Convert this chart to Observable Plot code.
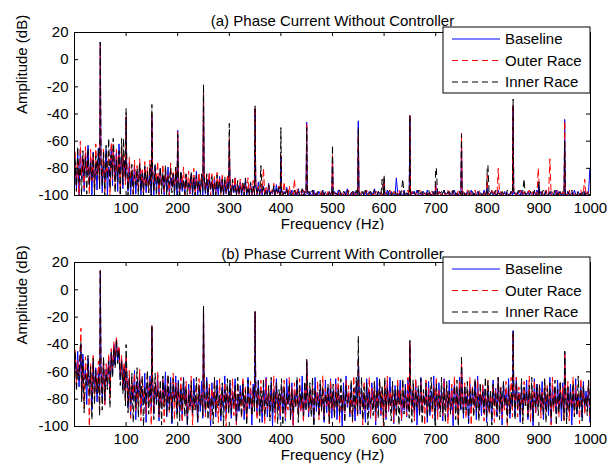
<!DOCTYPE html>
<html><head><meta charset="utf-8">
<script src="https://cdn.jsdelivr.net/npm/d3@7"></script>
<script src="https://cdn.jsdelivr.net/npm/@observablehq/plot@0.6"></script>
<style>
body{margin:0;background:#fff;}
#chart{position:relative;width:616px;height:467px;background:#fff;}
#chart svg{position:absolute;left:0;display:block;overflow:visible;}
</style></head><body><div id="chart"></div>
<script>
// ---------- tick labels / series meta ----------
const xTicks = [100,200,300,400,500,600,700,800,900,1000];
const yTicks = [-100,-80,-60,-40,-20,0,20];
const seriesNames = ["Baseline","Outer Race","Inner Race"];
const seriesColors = ["#0000ff","#ff0000","#000000"];
const seriesDash = [null,"6,4","6,4"];
const titleA = "(a) Phase Current Without Controller";
const titleB = "(b) Phase Current With Controller";
const xLabel = "Frequency (Hz)";
const yLabel = "Amplitude (dB)";

// noise-floor samples: one value every 2.5 Hz starting at 1.25 Hz (dB)
const aBase = [
-78,-95,-70,-100,-66,-88,-74,-97,-69,-85,-63,-92,-72,-100,-68,-90,-77,-96,-65,-87,
-70,-98,-75,-90,-66,-100,-79,-86,-64,-93,-72,-88,-67,-97,-62,-84,-70,-95,-74,-89,
-80,-97,-76,-100,-84,-92,-78,-99,-85,-90,-77,-100,-82,-95,-79,-98,-86,-93,-81,-100,
-82,-100,-78,-94,-86,-99,-80,-92,-88,-100,-83,-96,-79,-100,-87,-93,-84,-98,-81,-100,
-86,-100,-83,-97,-89,-100,-85,-95,-91,-99,-84,-100,-88,-96,-82,-100,-90,-98,-86,-100,
-85,-99,-88,-100,-84,-96,-90,-100,-87,-98,-92,-100,-86,-97,-89,-100,-91,-99,-88,-100,
-89,-100,-92,-98,-87,-100,-94,-99,-90,-100,-93,-97,-88,-100,-95,-99,-91,-100,-94,-98,
-92,-100,-90,-99,-95,-100,-93,-98,-96,-100,-91,-100,-97,-99,-94,-100,-92,-98,-96,-100,
-95,-100,-97,-99,-94,-100,-98,-100,-96,-99,-100,-97,-100,-95,-99,-100,-98,-96,-100,-99,
-98,-100,-97,-100,-99,-96,-100,-98,-100,-97,-99,-100,-96,-100,-98,-99,-100,-97,-100,-98,
-100,-97,-99,-100,-96,-100,-98,-99,-100,-97,-100,-95,-99,-100,-98,-100,-97,-99,-100,-96,
-97,-100,-99,-98,-100,-96,-100,-99,-97,-100,-98,-100,-95,-99,-100,-97,-100,-98,-99,-100,
-99,-100,-96,-100,-98,-97,-100,-99,-100,-87,-98,-100,-97,-99,-100,-96,-100,-98,-100,-97,
-100,-98,-99,-97,-100,-96,-99,-100,-98,-100,-97,-99,-100,-96,-100,-98,-99,-100,-97,-100,
-98,-100,-97,-99,-100,-98,-96,-100,-99,-97,-100,-98,-100,-99,-96,-100,-98,-100,-97,-99,
-100,-99,-98,-100,-97,-100,-99,-96,-100,-98,-99,-100,-97,-100,-98,-99,-100,-96,-100,-98,
-97,-100,-99,-98,-100,-97,-100,-99,-96,-100,-98,-100,-99,-97,-100,-98,-100,-99,-97,-100,
-99,-98,-100,-97,-99,-100,-96,-100,-98,-99,-100,-97,-100,-98,-99,-100,-97,-100,-96,-99,
-100,-97,-99,-100,-98,-96,-100,-99,-97,-100,-98,-100,-99,-96,-100,-97,-99,-100,-98,-100,
-98,-100,-97,-99,-100,-98,-100,-96,-99,-100,-97,-100,-98,-99,-100,-97,-100,-99,-98,-80];
const aOuter = [
-68,-92,-75,-100,-60,-86,-71,-95,-64,-83,-74,-99,-66,-89,-70,-97,-62,-85,-76,-94,
-72,-90,-65,-97,-77,-85,-68,-100,-61,-88,-73,-94,-66,-83,-70,-99,-64,-87,-75,-92,
-76,-95,-72,-88,-80,-100,-74,-91,-78,-97,-73,-89,-81,-100,-75,-93,-79,-98,-74,-90,
-78,-96,-82,-89,-75,-100,-84,-93,-77,-98,-80,-90,-85,-100,-76,-94,-83,-97,-79,-91,
-81,-98,-84,-92,-79,-100,-86,-95,-82,-99,-85,-93,-80,-100,-87,-96,-83,-98,-85,-94,
-82,-97,-85,-93,-83,-100,-84,-96,-86,-99,-83,-94,-87,-100,-84,-97,-88,-98,-85,-95,
-87,-100,-89,-96,-86,-99,-91,-100,-88,-97,-90,-100,-92,-98,-87,-100,-93,-99,-89,-100,
-90,-99,-93,-100,-91,-98,-80,-100,-94,-99,-92,-100,-95,-98,-91,-100,-96,-99,-93,-100,
-94,-100,-90,-99,-96,-100,-93,-98,-97,-100,-88,-99,-95,-100,-98,-97,-100,-96,-99,-100,
-98,-97,-100,-99,-96,-100,-98,-100,-97,-99,-100,-96,-100,-98,-99,-100,-97,-100,-98,-99,
-100,-98,-97,-100,-99,-96,-100,-97,-99,-100,-98,-100,-96,-99,-100,-97,-100,-98,-99,-100,
-99,-100,-97,-98,-100,-99,-96,-100,-98,-97,-100,-99,-100,-96,-98,-100,-99,-97,-100,-98,
-97,-99,-100,-98,-96,-100,-99,-97,-100,-98,-100,-96,-99,-100,-97,-98,-100,-99,-96,-100,
-100,-97,-99,-100,-98,-99,-100,-96,-97,-100,-99,-98,-100,-97,-99,-100,-96,-98,-100,-99,
-98,-100,-96,-99,-100,-97,-98,-100,-99,-96,-100,-98,-97,-100,-99,-98,-100,-96,-99,-100,
-99,-97,-100,-98,-96,-100,-97,-99,-100,-98,-96,-100,-99,-97,-100,-98,-99,-100,-97,-96,
-100,-98,-99,-96,-100,-97,-99,-100,-80,-100,-96,-99,-100,-97,-98,-100,-99,-99,-100,-97,
-97,-100,-98,-99,-100,-96,-98,-100,-97,-99,-100,-98,-96,-100,-99,-97,-100,-98,-99,-80,
-100,-99,-97,-100,-98,-96,-100,-99,-73,-100,-98,-97,-100,-99,-96,-100,-98,-100,-97,-99,
-98,-100,-99,-96,-100,-97,-99,-100,-98,-97,-100,-99,-96,-100,-98,-88,-100,-97,-99,-100];
const aInner = [
-73,-97,-64,-90,-79,-100,-67,-86,-72,-99,-65,-93,-76,-88,-69,-100,-71,-84,-66,-95,
-75,-93,-68,-100,-63,-88,-58,-95,-70,-86,-66,-98,-74,-90,-67,-100,-58,-92,-72,-87,
-79,-100,-83,-94,-77,-99,-85,-92,-80,-100,-76,-96,-84,-100,-78,-93,-82,-98,-77,-100,
-81,-97,-77,-100,-85,-93,-79,-99,-83,-95,-78,-100,-86,-92,-80,-98,-84,-100,-79,-96,
-85,-100,-82,-96,-88,-99,-84,-100,-90,-94,-83,-98,-87,-100,-85,-95,-89,-100,-84,-97,
-87,-98,-84,-100,-89,-95,-86,-99,-91,-100,-85,-96,-90,-99,-88,-100,-86,-97,-92,-100,
-90,-100,-88,-97,-93,-100,-89,-99,-94,-98,-91,-100,-87,-99,-95,-100,-90,-98,-93,-100,
-93,-99,-95,-100,-78,-98,-94,-100,-96,-99,-92,-100,-97,-98,-93,-100,-95,-99,-94,-100,
-96,-100,-98,-99,-95,-100,-97,-98,-100,-99,-96,-100,-98,-97,-100,-99,-95,-100,-97,-98,
-99,-97,-100,-98,-96,-100,-99,-100,-97,-98,-100,-99,-96,-100,-97,-99,-100,-98,-100,-97,
-97,-100,-98,-99,-100,-96,-99,-100,-97,-98,-100,-96,-99,-100,-98,-97,-100,-99,-96,-100,
-100,-98,-99,-97,-100,-96,-98,-100,-99,-97,-100,-98,-96,-99,-100,-97,-98,-100,-88,-99,
-98,-99,-100,-97,-96,-100,-98,-99,-97,-100,-99,-98,-100,-96,-88,-100,-97,-99,-98,-100,
-99,-100,-97,-98,-100,-99,-96,-100,-98,-97,-100,-99,-98,-100,-96,-99,-100,-97,-99,-98,
-80,-99,-100,-98,-97,-100,-96,-99,-100,-98,-97,-100,-99,-96,-100,-98,-99,-100,-97,-99,
-100,-97,-99,-100,-98,-96,-100,-99,-97,-100,-98,-99,-100,-97,-96,-100,-99,-98,-100,-97,
-78,-100,-98,-97,-100,-99,-96,-100,-98,-99,-100,-97,-99,-98,-100,-96,-99,-100,-97,-98,
-97,-99,-100,-98,-96,-100,-99,-97,-88,-100,-98,-99,-100,-97,-99,-100,-96,-98,-100,-99,
-99,-100,-98,-96,-100,-97,-99,-100,-98,-97,-100,-99,-96,-100,-98,-100,-97,-99,-100,-98,
-100,-98,-97,-100,-99,-96,-100,-98,-99,-100,-97,-98,-100,-99,-96,-100,-98,-97,-100,-99];

const bBase = [
-48,-62,-45,-71,-55,-80,-47,-66,-58,-84,-50,-69,-61,-88,-53,-74,-57,-82,-60,-77,
-55,-79,-52,-84,-58,-70,-49,-76,-45,-62,-40,-55,-38,-52,-43,-66,-50,-72,-56,-80,
-60,-86,-64,-92,-70,-81,-59,-95,-67,-78,-62,-90,-73,-84,-61,-97,-68,-80,-63,-88,
-65,-91,-70,-83,-62,-96,-74,-87,-66,-79,-60,-93,-71,-85,-64,-98,-69,-82,-63,-90,
-66,-88,-72,-95,-64,-81,-77,-99,-69,-86,-74,-92,-65,-83,-79,-97,-70,-89,-67,-94,
-73,-90,-64,-84,-78,-100,-68,-87,-75,-93,-66,-82,-80,-96,-71,-88,-63,-91,-76,-85,
-68,-94,-74,-86,-65,-98,-79,-89,-70,-83,-67,-95,-77,-91,-64,-87,-72,-99,-69,-84,
-75,-92,-66,-89,-80,-97,-71,-85,-64,-93,-78,-88,-67,-100,-73,-90,-65,-86,-79,-95,
-70,-87,-76,-96,-65,-84,-72,-93,-68,-99,-74,-82,-66,-91,-79,-88,-63,-95,-71,-86,
-67,-93,-73,-85,-78,-98,-64,-89,-75,-92,-69,-84,-80,-97,-66,-90,-72,-87,-65,-94,
-74,-88,-65,-95,-71,-83,-77,-100,-68,-90,-63,-86,-76,-93,-70,-85,-79,-96,-67,-89,
-66,-91,-72,-84,-79,-97,-65,-88,-73,-94,-68,-82,-75,-99,-64,-87,-71,-92,-78,-86,
-72,-95,-67,-89,-64,-85,-76,-98,-70,-91,-74,-83,-66,-96,-79,-88,-69,-93,-65,-87,
-69,-86,-75,-93,-66,-99,-73,-88,-64,-90,-77,-84,-70,-97,-67,-92,-74,-85,-63,-95,
-76,-90,-68,-87,-73,-96,-65,-84,-79,-93,-66,-89,-72,-100,-68,-86,-75,-91,-64,-88,
-65,-94,-71,-85,-77,-98,-69,-90,-74,-83,-67,-95,-63,-88,-78,-92,-70,-86,-73,-97,
-71,-88,-78,-96,-66,-84,-72,-93,-64,-89,-76,-99,-68,-85,-73,-91,-65,-94,-79,-87,
-68,-92,-64,-86,-75,-97,-70,-89,-77,-84,-66,-95,-72,-88,-79,-100,-65,-90,-69,-85,
-74,-89,-67,-95,-72,-86,-78,-92,-64,-98,-70,-84,-76,-91,-66,-87,-73,-96,-68,-90,
-66,-93,-73,-85,-69,-99,-75,-88,-65,-91,-78,-86,-71,-94,-67,-89,-74,-84,-70,-97];
const bOuter = [
-44,-70,-52,-63,-41,-78,-56,-86,-49,-67,-58,-100,-54,-75,-47,-81,-62,-73,-52,-88,
-60,-76,-50,-85,-54,-68,-47,-79,-43,-58,-38,-50,-34,-48,-41,-62,-48,-70,-53,-83,
-63,-82,-59,-94,-66,-77,-61,-89,-70,-85,-58,-96,-64,-80,-72,-91,-60,-84,-67,-99,
-62,-88,-68,-79,-60,-93,-73,-86,-65,-97,-70,-81,-63,-90,-75,-84,-61,-95,-68,-87,
-70,-85,-64,-97,-75,-83,-67,-92,-73,-88,-63,-99,-78,-86,-69,-94,-65,-82,-76,-91,
-64,-93,-77,-86,-69,-95,-72,-84,-66,-90,-79,-97,-65,-88,-74,-83,-68,-100,-71,-89,
-77,-87,-65,-92,-73,-99,-68,-85,-76,-94,-64,-88,-71,-96,-79,-84,-67,-91,-74,-86,
-69,-95,-74,-83,-66,-90,-78,-98,-65,-87,-72,-93,-76,-85,-63,-97,-70,-89,-77,-92,
-73,-84,-66,-94,-79,-88,-64,-91,-71,-100,-68,-86,-75,-92,-65,-89,-78,-96,-69,-83,
-65,-90,-76,-87,-70,-96,-74,-83,-67,-95,-79,-89,-63,-92,-72,-85,-76,-98,-66,-88,
-78,-92,-69,-85,-64,-98,-73,-88,-77,-94,-66,-84,-70,-90,-75,-97,-63,-86,-79,-93,
-70,-86,-75,-99,-67,-89,-79,-84,-64,-93,-72,-87,-68,-96,-76,-85,-65,-91,-73,-100,
-67,-93,-63,-88,-74,-85,-70,-97,-78,-90,-65,-84,-73,-95,-69,-87,-77,-92,-64,-89,
-75,-89,-71,-96,-65,-84,-78,-91,-68,-87,-74,-99,-66,-90,-72,-83,-79,-94,-70,-86,
-64,-95,-73,-86,-77,-92,-66,-88,-71,-98,-75,-85,-69,-93,-63,-89,-76,-97,-67,-84,
-72,-87,-68,-94,-75,-83,-64,-99,-70,-90,-78,-86,-66,-92,-74,-85,-69,-96,-77,-88,
-66,-91,-77,-84,-70,-97,-73,-89,-65,-86,-71,-94,-79,-88,-67,-100,-72,-85,-64,-93,
-76,-86,-64,-93,-71,-88,-75,-96,-67,-84,-78,-91,-63,-97,-73,-87,-66,-90,-75,-85,
-69,-94,-74,-87,-66,-90,-70,-84,-77,-99,-64,-89,-72,-86,-78,-93,-68,-85,-71,-96,
-73,-88,-67,-96,-75,-85,-64,-92,-70,-87,-76,-98,-65,-84,-71,-91,-79,-86,-67,-94];
const bInner = [
-46,-74,-58,-66,-43,-82,-51,-90,-62,-70,-48,-78,-56,-95,-50,-84,-59,-76,-64,-92,
-57,-88,-49,-81,-61,-73,-52,-86,-46,-64,-42,-57,-36,-54,-44,-70,-52,-76,-58,-85,
-58,-90,-65,-83,-61,-97,-69,-86,-57,-93,-66,-79,-63,-100,-71,-84,-59,-91,-68,-82,
-64,-95,-61,-84,-72,-91,-66,-99,-63,-86,-70,-92,-62,-88,-68,-97,-65,-83,-71,-94,
-68,-96,-73,-87,-65,-93,-71,-99,-76,-85,-67,-91,-74,-88,-64,-97,-70,-84,-77,-92,
-75,-88,-66,-95,-72,-86,-79,-98,-64,-90,-70,-85,-77,-93,-68,-100,-73,-87,-65,-91,
-66,-91,-78,-84,-70,-97,-64,-88,-75,-93,-69,-86,-73,-99,-66,-85,-78,-92,-71,-89,
-72,-86,-67,-97,-74,-89,-65,-93,-79,-85,-70,-96,-64,-90,-75,-88,-68,-98,-73,-84,
-65,-99,-71,-88,-76,-84,-68,-95,-73,-90,-77,-86,-64,-97,-70,-83,-75,-92,-67,-89,
-74,-87,-68,-93,-64,-100,-72,-85,-78,-91,-66,-88,-71,-95,-76,-84,-69,-98,-73,-86,
-69,-94,-75,-86,-72,-92,-65,-89,-74,-97,-70,-83,-78,-90,-66,-96,-72,-87,-64,-91,
-77,-88,-64,-95,-71,-87,-68,-99,-75,-84,-79,-92,-67,-89,-73,-94,-65,-86,-70,-97,
-64,-90,-72,-85,-78,-96,-67,-88,-73,-93,-70,-99,-76,-84,-65,-91,-71,-87,-79,-94,
-71,-97,-66,-89,-74,-86,-70,-92,-65,-98,-73,-85,-68,-94,-77,-90,-64,-88,-72,-99,
-68,-85,-77,-93,-64,-90,-72,-97,-67,-86,-74,-91,-79,-84,-70,-95,-66,-100,-73,-87,
-76,-92,-70,-88,-67,-97,-74,-85,-71,-93,-65,-89,-78,-96,-68,-84,-75,-90,-64,-94,
-67,-89,-73,-99,-69,-86,-76,-92,-64,-95,-72,-88,-67,-84,-78,-97,-70,-91,-75,-85,
-73,-95,-68,-87,-77,-91,-65,-98,-71,-85,-74,-93,-70,-88,-64,-96,-76,-86,-69,-92,
-70,-86,-76,-92,-65,-97,-72,-88,-68,-94,-79,-85,-66,-99,-73,-90,-67,-87,-77,-95,
-65,-98,-71,-89,-74,-86,-68,-93,-76,-91,-63,-88,-73,-96,-70,-85,-78,-92,-66,-90];

// harmonic peaks (Hz) and their tip amplitudes (dB)
const peakFreqA = [50,75,95,100,150,200,250,300,350,400,450,500,550,600,650,700,750,800,850,900,950];
const peakABase  = [13,-66,-75,-43,-42,-52,-23,-60,-36,-72,-46,-72,-45,-90,-42,-92,-60,-92,-34,-92,-44];
const peakAOuter = [12,-62,-70,-42,-40,-53,-22,-58,-35,-70,-47,-70,-55,-88,-40,-90,-54,-85,-33,-88,-45];
const peakAInner = [13,-58,-58,-36,-33,-55,-18,-47,-34,-50,-50,-63,-50,-85,-41,-80,-55,-78,-29,-90,-60];
const peakFreqB = [12.5,50,100,150,250,350,450,550,650,750,850,950];
const peakBBase  = [-40,14,-50,-27,-12,-16,-52,-50,-40,-55,-30,-45];
const peakBOuter = [-28,14,-48,-26,-12,-16,-51,-50,-38,-52,-31,-46];
const peakBInner = [-38,14,-40,-26,-12,-16,-51,-34,-37,-48,-30,-45];

// ---------- build ----------
function build(noise, pf, pv) {
  const pts = noise.map((v, i) => ({f: 1.25 + 2.5 * i, v}));
  pf.forEach((f, i) => pts.push({f, v: pv[i]}));
  pts.sort((a, b) => a.f - b.f);
  return pts;
}

const FONT = "'Liberation Sans', Arial, Helvetica, sans-serif";
function makePanel({title, series, height, mt, mb, top, titleDy, xLabelDy}) {
  const W = 616, ml = 74, mr = 26;
  const ph = height - mt - mb, pw = W - ml - mr, tk = 4;
  const marks = [];
  series.forEach((s, k) => marks.push(Plot.line(s, {
    x: "f", y: "v", stroke: seriesColors[k], strokeWidth: 1,
    strokeDasharray: seriesDash[k] || undefined
  })));
  marks.push(
    Plot.ruleX(xTicks, {x: d => d, insetBottom: ph - tk, stroke: "black"}),
    Plot.ruleX(xTicks, {x: d => d, insetTop: ph - tk, stroke: "black"}),
    Plot.ruleY(yTicks, {y: d => d, insetRight: pw - tk, stroke: "black"}),
    Plot.ruleY(yTicks, {y: d => d, insetLeft: pw - tk, stroke: "black"}),
    Plot.frame({stroke: "black"}),
    Plot.axisX({ticks: xTicks, tickSize: 0, tickPadding: 7, tickFormat: d => String(d), label: null, fill: "black"}),
    Plot.axisY({ticks: yTicks, tickSize: 0, tickPadding: 6, tickFormat: d => String(d), label: null, fill: "black"}),
    Plot.text([title], {text: d => d, frameAnchor: "top", dy: titleDy, fill: "black"}),
    Plot.text([xLabel], {text: d => d, frameAnchor: "bottom", dy: xLabelDy, fill: "black"}),
    Plot.text([yLabel], {text: d => d, frameAnchor: "left", dx: -52.5, rotate: -90, fill: "black"})
  );
  const svg = Plot.plot({
    width: W, height, marginLeft: ml, marginRight: mr, marginTop: mt, marginBottom: mb,
    x: {domain: [0, 1000]}, y: {domain: [-100, 20]},
    style: {fontFamily: FONT, fontSize: "15px", background: "white", color: "black", overflow: "visible"},
    marks
  });
  svg.style.top = top + "px";
  // legend
  const g = d3.select(svg).append("g").attr("font-family", FONT).attr("font-size", 15)
    .attr("text-anchor", "start");
  const bw = 147, bh = 66, bx = W - mr - bw, by = mt - 5;
  const rows = [12, 33.5, 55];
  g.append("rect").attr("x", bx).attr("y", by).attr("width", bw).attr("height", bh)
    .attr("fill", "white").attr("stroke", "black");
  seriesNames.forEach((name, k) => {
    const yy = by + rows[k];
    const ln = g.append("line").attr("x1", bx + 9).attr("x2", bx + 57).attr("y1", yy).attr("y2", yy)
      .attr("stroke", seriesColors[k]).attr("stroke-width", 1);
    if (seriesDash[k]) ln.attr("stroke-dasharray", seriesDash[k]);
    g.append("text").attr("x", bx + 62).attr("y", yy).attr("dy", "0.35em")
      .attr("text-anchor", "start").attr("fill", "black").text(name);
  });
  return svg;
}

const root = document.getElementById("chart");
root.append(makePanel({
  title: titleA, height: 230, mt: 32, mb: 35, top: 0, titleDy: -17.5, xLabelDy: 33,
  series: [build(aBase, peakFreqA, peakABase), build(aOuter, peakFreqA, peakAOuter), build(aInner, peakFreqA, peakAInner)]
}));
root.append(makePanel({
  title: titleB, height: 237, mt: 32, mb: 41, top: 230, titleDy: -14.5, xLabelDy: 33,
  series: [build(bBase, peakFreqB, peakBBase), build(bOuter, peakFreqB, peakBOuter), build(bInner, peakFreqB, peakBInner)]
}));
</script></body></html>
